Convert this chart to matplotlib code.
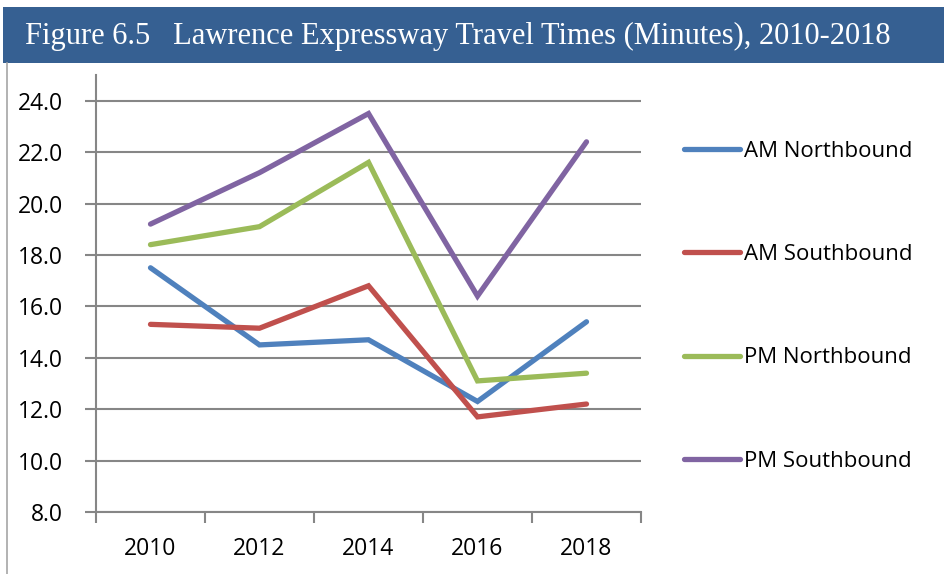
import matplotlib.pyplot as plt
from matplotlib.patches import Rectangle
import numpy as np

# données
years = ['2010', '2012', '2014', '2016', '2018']
am_north = [17.5, 14.5, 14.7, 12.3, 15.4]
am_south = [15.3, 15.15, 16.8, 11.7, 12.2]
pm_north = [18.4, 19.1, 21.6, 13.1, 13.4]
pm_south = [19.2, 21.2, 23.5, 16.4, 22.4]
labels = ['AM Northbound', 'AM Southbound', 'PM Northbound', 'PM Southbound']
colors = ['#4F81BD', '#C0504D', '#9BBB59', '#8064A2']

W, H = 945, 574
fig = plt.figure(figsize=(W / 100, H / 100), dpi=100)

# bandeau du titre
fig.patches.append(Rectangle((3 / W, 1 - 63 / H), 1, 56 / H, transform=fig.transFigure,
                             facecolor='#366092', edgecolor='none'))
fig.text(25 / W, 1 - 36 / H, 'Figure 6.5   Lawrence Expressway Travel Times (Minutes), 2010-2018',
         color='white', fontsize=22, family='Liberation Serif', va='center', ha='left')
# bordure gauche
fig.add_artist(plt.Line2D([7 / W, 7 / W], [0, 1 - 63 / H], transform=fig.transFigure,
                          color='#a6a6a6', lw=1.2))

ax = fig.add_axes([96 / W, 1 - 512 / H, (641 - 96) / W, (512 - 75) / H])
x = np.arange(len(years))
for serie, lab, c in zip([am_north, am_south, pm_north, pm_south], labels, colors):
    ax.plot(x, serie, color=c, lw=3.8, label=lab, solid_capstyle='round', solid_joinstyle='miter')

ax.set_xlim(-0.5, 4.5)
ax.set_ylim(8, 25)
ax.set_yticks(np.arange(8, 25, 2))
ax.set_yticklabels(['%.1f' % v for v in np.arange(8, 25, 2)])
ax.set_xticks(x)
ax.set_xticklabels(years)
ax.set_xticks(np.arange(-0.5, 5, 1), minor=True)
ax.tick_params(axis='x', which='major', length=0, pad=18, labelsize=16.5)
ax.tick_params(axis='x', which='minor', length=8, width=1.5, color='#868686', direction='out')
ax.tick_params(axis='y', length=8, width=1.5, color='#868686', pad=16, labelsize=16.5)
ax.grid(axis='y', color='#868686', lw=1.5)
ax.set_axisbelow(True)
for s in ['top', 'right']:
    ax.spines[s].set_visible(False)
for s in ['left', 'bottom']:
    ax.spines[s].set_color('#868686')
    ax.spines[s].set_linewidth(1.5)
for t in ax.get_xticklabels() + ax.get_yticklabels():
    t.set_family('Open Sans')

leg = ax.legend(loc='upper left', bbox_to_anchor=(664 / W, 1 - 121 / H), bbox_transform=fig.transFigure,
                frameon=False, labelspacing=3.7, handlelength=2.5, handletextpad=0.2,
                prop={'family': 'Open Sans', 'size': 16})

fig.savefig('out.png', dpi=100)
